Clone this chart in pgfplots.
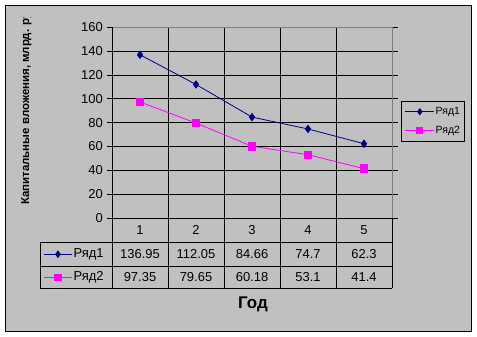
\documentclass[border=0pt]{standalone}
\usepackage{pgfplots}
\pgfplotsset{compat=1.18}
\usepackage{pgfplotstable}
\usepackage{fontspec}
\setmainfont{Liberation Sans}

\definecolor{chartgray}{RGB}{192,192,192}
\definecolor{framegray}{RGB}{128,128,128}
\definecolor{ser1}{RGB}{0,0,128}
\definecolor{ser2}{RGB}{255,0,255}

% capital investment by year
\pgfplotstableread{
x r1 r2
1 136.95 97.35
2 112.05 79.65
3 84.66 60.18
4 74.7 53.1
5 62.3 41.4
}\invest

\newcommand{\cellfont}{\fontsize{13}{15}\selectfont}

\begin{document}
\begin{tikzpicture}[x=1bp,y=1bp]
% chart area
\fill[white] (0,0) rectangle (477,336);
\filldraw[fill=chartgray, draw=black, line width=0.9bp] (5.3,5) rectangle (471.5,330.7);

\begin{axis}[
  at={(112bp,118bp)}, anchor=south west,
  scale only axis, width=280bp, height=190.7bp,
  xmin=0.5, xmax=5.5, ymin=0, ymax=160,
  ytick={0,20,...,160},
  xtick={1.5,2.5,3.5,4.5}, xticklabels={},
  grid=major, grid style={black, line width=0.8bp},
  axis line style={draw=none},
  tick align=outside, major tick length=5.5bp,
  y tick style={black, line width=0.8bp},
  x tick style={draw=none},
  yticklabel style={font=\cellfont, inner xsep=0pt, xshift=-3.5bp},
  /pgf/number format/assume math mode=true,
  clip=false,
  legend cell align=left,
  legend style={at={(1.0318,0.6151)}, anchor=north west,
    draw=black, line width=0.8bp, fill=none,
    font=\fontsize{10.5}{12}\selectfont,
    inner xsep=3.6bp, inner ysep=4.6bp, row sep=7bp,
    nodes={inner sep=1bp, text height=8bp, text depth=2bp}},
  legend image code/.code={%
    \draw[#1, mark repeat=2, mark phase=2, mark size=3bp]
      plot coordinates {(0bp,0bp)(14.5bp,0bp)(29bp,0bp)};},
]
\addplot[ser1, line width=0.8bp, mark=diamond*, mark size=3.6bp,
  mark options={solid}] table[x=x, y=r1]{\invest};
\addlegendentry{Ряд1}
\addplot[ser2, line width=0.8bp, mark=square*, mark size=3.8bp,
  mark options={solid}] table[x=x, y=r2]{\invest};
\addlegendentry{Ряд2}

% data table under the plot: years, then the two series
\addplot[forget plot, draw=none, mark=none, nodes near coords,
  point meta=explicit symbolic,
  nodes near coords style={anchor=center, text=black, font=\cellfont, inner sep=0pt}]
  table[x=x, y expr=-10.07, meta=x]{\invest};
\addplot[forget plot, draw=none, mark=none, nodes near coords,
  point meta=explicit symbolic,
  nodes near coords style={anchor=center, text=black, font=\cellfont, inner sep=0pt}]
  table[x=x, y expr=-30.2, meta=r1]{\invest};
\addplot[forget plot, draw=none, mark=none, nodes near coords,
  point meta=explicit symbolic,
  nodes near coords style={anchor=center, text=black, font=\cellfont, inner sep=0pt}]
  table[x=x, y expr=-49.5, meta=r2]{\invest};
\end{axis}

% row keys of the data table
\begin{axis}[
  at={(112bp,118bp)}, anchor=south west,
  scale only axis, width=280bp, height=190.7bp,
  hide axis, xmin=0, xmax=1, ymin=0, ymax=1,
  legend cell align=left,
  legend style={at={(-0.2464,-0.1508)}, anchor=north west,
    draw=none, fill=none, font=\cellfont,
    inner sep=0pt, row sep=8.5bp,
    nodes={inner sep=1bp, text height=9.5bp, text depth=3bp}},
  legend image code/.code={%
    \draw[#1, mark repeat=2, mark phase=2]
      plot coordinates {(0bp,0bp)(14.35bp,0bp)(28.7bp,0bp)};},
]
\addlegendimage{ser1, line width=0.8bp, mark=diamond*, mark size=3.2bp}
\addlegendentry{Ряд1}
\addlegendimage{ser2, line width=0.8bp, mark=square*, mark size=3.3bp}
\addlegendentry{Ряд2}
\end{axis}

% plot area frame and table rules
\draw[framegray, line width=0.8bp] (112,308.7) -- (392,308.7) -- (392,118);
\begin{scope}[black, line width=0.8bp]
  \draw (40,94) -- (392,94);
  \draw (40,70) -- (392,70);
  \draw (40,48) -- (392,48);
  \draw (40,94) -- (40,48);
  \draw (112,308.7) -- (112,48);
  \foreach \gx in {168,224,280,336,392} \draw (\gx,118) -- (\gx,48);
\end{scope}

% axis titles
\begin{scope}
  \clip (0,0) rectangle (477,318);
  \node[rotate=90, anchor=west, inner sep=0pt, font=\bfseries\fontsize{11.5}{13}\selectfont]
    at (26,131) {Капитальные вложения, млрд. руб.};
\end{scope}
\node[font=\bfseries\fontsize{17}{20}\selectfont, inner sep=0pt] at (253,31.5) {Год};
\end{tikzpicture}
\end{document}
